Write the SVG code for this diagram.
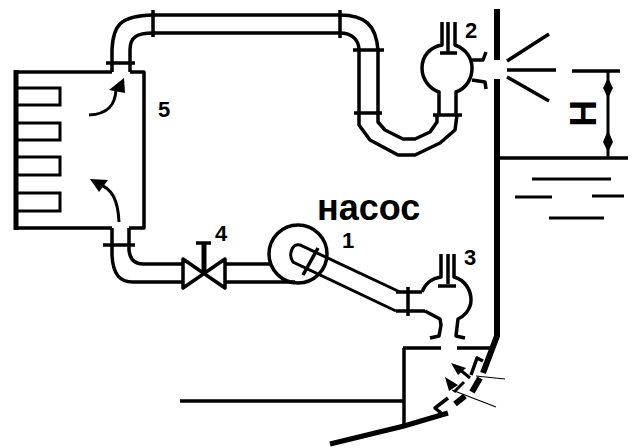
<svg xmlns="http://www.w3.org/2000/svg" width="636" height="448" viewBox="0 0 636 448">
<style>
.l{fill:none;stroke:#000;stroke-width:3.5;stroke-linejoin:round}
.m{fill:none;stroke:#000;stroke-width:3}
.b{fill:none;stroke:#000;stroke-width:6}
.t{fill:none;stroke:#000;stroke-width:1.2}
.k{fill:#000;stroke:none}
text{font-family:"Liberation Sans",Arial,sans-serif;fill:#000}
.n{font-size:22px;font-weight:700}
</style>
<rect width="636" height="448" fill="#fff"/>
<g id="connectors">
<path class="l" d="M112 72V50C113 25 120 16 153 15H340C365 15 376 25 378 50V113V122L385 130L403 139H415L430 132L437 122V115M130 72V50C130 37 137 33 153 33H340C352 33 359 40 359 50V113V125L370 140L398 155H415L440 143L455 130L457 115"/>
<path class="l" d="M106 63H135M153 10V37M340 10V38M353 50H384M354 113H382M433 115H462"/>
<path class="l" d="M112 228V255C113 275 120 282 133 282H183M129 228V250C130 260 135 264 143 264H183M225 264H271M225 282H295"/>
<path class="l" d="M103 245H135"/>
<path class="m" d="M400 292L300 245C292 243 288 255 293 262L396 311"/>
<path class="l" d="M318 248L303 275"/>
<path class="l" d="M396 292H422M396 311H425M408 287V316"/>
<path class="m" d="M89 115C108 114 115 105 116 90"/>
<path class="k" d="M124 78L109 90L125 93Z"/>
<path class="m" d="M119 222C118 200 112 188 98 184"/>
<path class="k" d="M90 179L108 180L99 192Z"/>
</g>
<g id="box5">
<path class="l" d="M112 72H16M130 72H144V228H129M112 228H16"/>
<path d="M16 70V230" fill="none" stroke="#000" stroke-width="5"/>
<path class="m" d="M18 88H60V105H18M18 123H60V140H18M18 157H60V175H18M18 193H60V211H18"/>
<text class="n" x="158" y="117">5</text>
</g>
<g id="nozzle2">
<path class="l" d="M439 115V92C428 88 422 78 422 68C422 56 430 47 442 45V22M456 115V92C467 88 472 78 472 68C472 58 466 49 455 45V22"/>
<path class="l" d="M448 22V53M440 53H457"/>
<path class="l" d="M472 60H483L486 52M472 80L485 82L486 89"/>
<text class="n" x="465" y="38">2</text>
</g>
<g id="pump1">
<circle class="l" cx="298" cy="254" r="29"/>
<text class="n" x="342" y="248">1</text>
<text x="317" y="220" font-size="36" font-weight="700">насос</text>
</g>
<g id="valve4">
<path class="l" d="M183 259L225 288V259L183 288Z"/>
<path d="M204 273V243" fill="none" stroke="#000" stroke-width="5"/>
<path class="l" d="M196 243H211"/>
<text class="n" x="215" y="241">4</text>
</g>
<g id="nozzle3">
<path class="l" d="M422 292C425 284 432 278 441 277V254M454 254V277C465 280 471 290 471 300C471 310 463 317 458 319L456 336L465 338M425 311L440 319L441 325L439 336L430 338"/>
<path class="l" d="M448 254V284M438 286H456"/>
<text class="n" x="464" y="265">3</text>
</g>
<g id="hull">
<path class="b" d="M497 9V60M497 79V336L483 373"/>
<path class="l" d="M507 61L549 34M507 70L556 70M507 77L549 101"/>
<path d="M330 444L404 426L448 413" fill="none" stroke="#000" stroke-width="5"/>
<path class="l" d="M403 348H441M457 348H490M404 348V426M180 401H404"/>
<path class="l" d="M448 398L435 408L441 413"/>
<path class="b" d="M455 404L465 396M472 392L480 378"/>
<path class="l" d="M471 375L477 358L483 361"/>
<path class="t" d="M476 376L505 379M452 390L496 407"/>
<path class="m" d="M470 378L458 368M464 382L454 392"/>
<path class="k" d="M451 363L466 368L458 375ZM445 377L458 385L449 391Z"/>
</g>
<g id="level">
<path class="l" d="M572 71H620M500 158H628"/>
<path class="m" d="M608 71V158"/>
<path class="k" d="M608 78L613 88L608 98L603 88ZM608 130L613 142L608 152L603 142Z"/>
<path class="m" d="M532 179H611M515 197H552M592 196H624M549 218H604"/>
<text transform="translate(570 100) rotate(90)" font-size="37" font-weight="700">Н</text>
</g>
</svg>
